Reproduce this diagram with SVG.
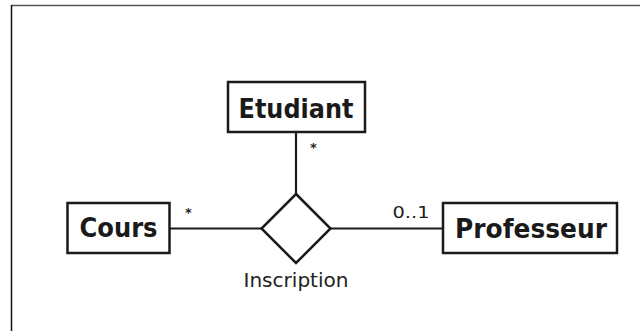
<svg xmlns="http://www.w3.org/2000/svg" width="640" height="331" viewBox="0 0 640 331">
  <style>
    .box { fill: #ffffff; stroke: #1a1a1a; stroke-width: 2.5; }
    .rel { fill: #ffffff; stroke: #1a1a1a; stroke-width: 2.5; }
    .link { fill: none; stroke: #1a1a1a; stroke-width: 2.2; }
    .name { font-family: "DejaVu Sans", "Liberation Sans", sans-serif; font-weight: bold; font-size: 26px; fill: #1a1a1a; text-anchor: middle; }
    .label { font-family: "DejaVu Sans", "Liberation Sans", sans-serif; font-size: 20px; fill: #222222; text-anchor: middle; }
    .mult { font-family: "DejaVu Sans", "Liberation Sans", sans-serif; font-size: 16px; fill: #222222; text-anchor: middle; }
    .star { font-family: "DejaVu Sans", "Liberation Sans", sans-serif; font-weight: bold; font-size: 13px; fill: #222222; text-anchor: middle; }
  </style>
  <rect width="640" height="331" fill="#ffffff"/>
  <!-- page frame -->
  <line x1="11" y1="5.5" x2="640" y2="5.5" stroke="#555555" stroke-width="1.5"/>
  <line x1="11.5" y1="5" x2="11.5" y2="331" stroke="#111111" stroke-width="1.5"/>

  <g id="connectors">
    <line class="link" x1="296" y1="132" x2="296" y2="194"/>
    <line class="link" x1="170" y1="228.5" x2="261" y2="228.5"/>
    <line class="link" x1="330" y1="228.5" x2="443" y2="228.5"/>
    <text class="star" x="313.5" y="152">*</text>
    <text class="star" x="188.5" y="217">*</text>
    <text class="mult" x="411" y="217.5" textLength="37" lengthAdjust="spacingAndGlyphs">0..1</text>
  </g>

  <g id="etudiant">
    <rect class="box" x="228" y="82" width="137" height="50"/>
    <text class="name" x="296" y="117.5" textLength="115" lengthAdjust="spacingAndGlyphs">Etudiant</text>
  </g>

  <g id="cours">
    <rect class="box" x="67.5" y="203" width="102" height="50"/>
    <text class="name" x="118.5" y="237" textLength="78" lengthAdjust="spacingAndGlyphs">Cours</text>
  </g>

  <g id="professeur">
    <rect class="box" x="443" y="203" width="174" height="50"/>
    <text class="name" x="531" y="237.5" textLength="152" lengthAdjust="spacingAndGlyphs">Professeur</text>
  </g>

  <g id="inscription">
    <polygon class="rel" points="296,194 330.5,228.5 296,263 261.5,228.5"/>
    <text class="label" x="296" y="286.5" textLength="105" lengthAdjust="spacingAndGlyphs">Inscription</text>
  </g>
</svg>
